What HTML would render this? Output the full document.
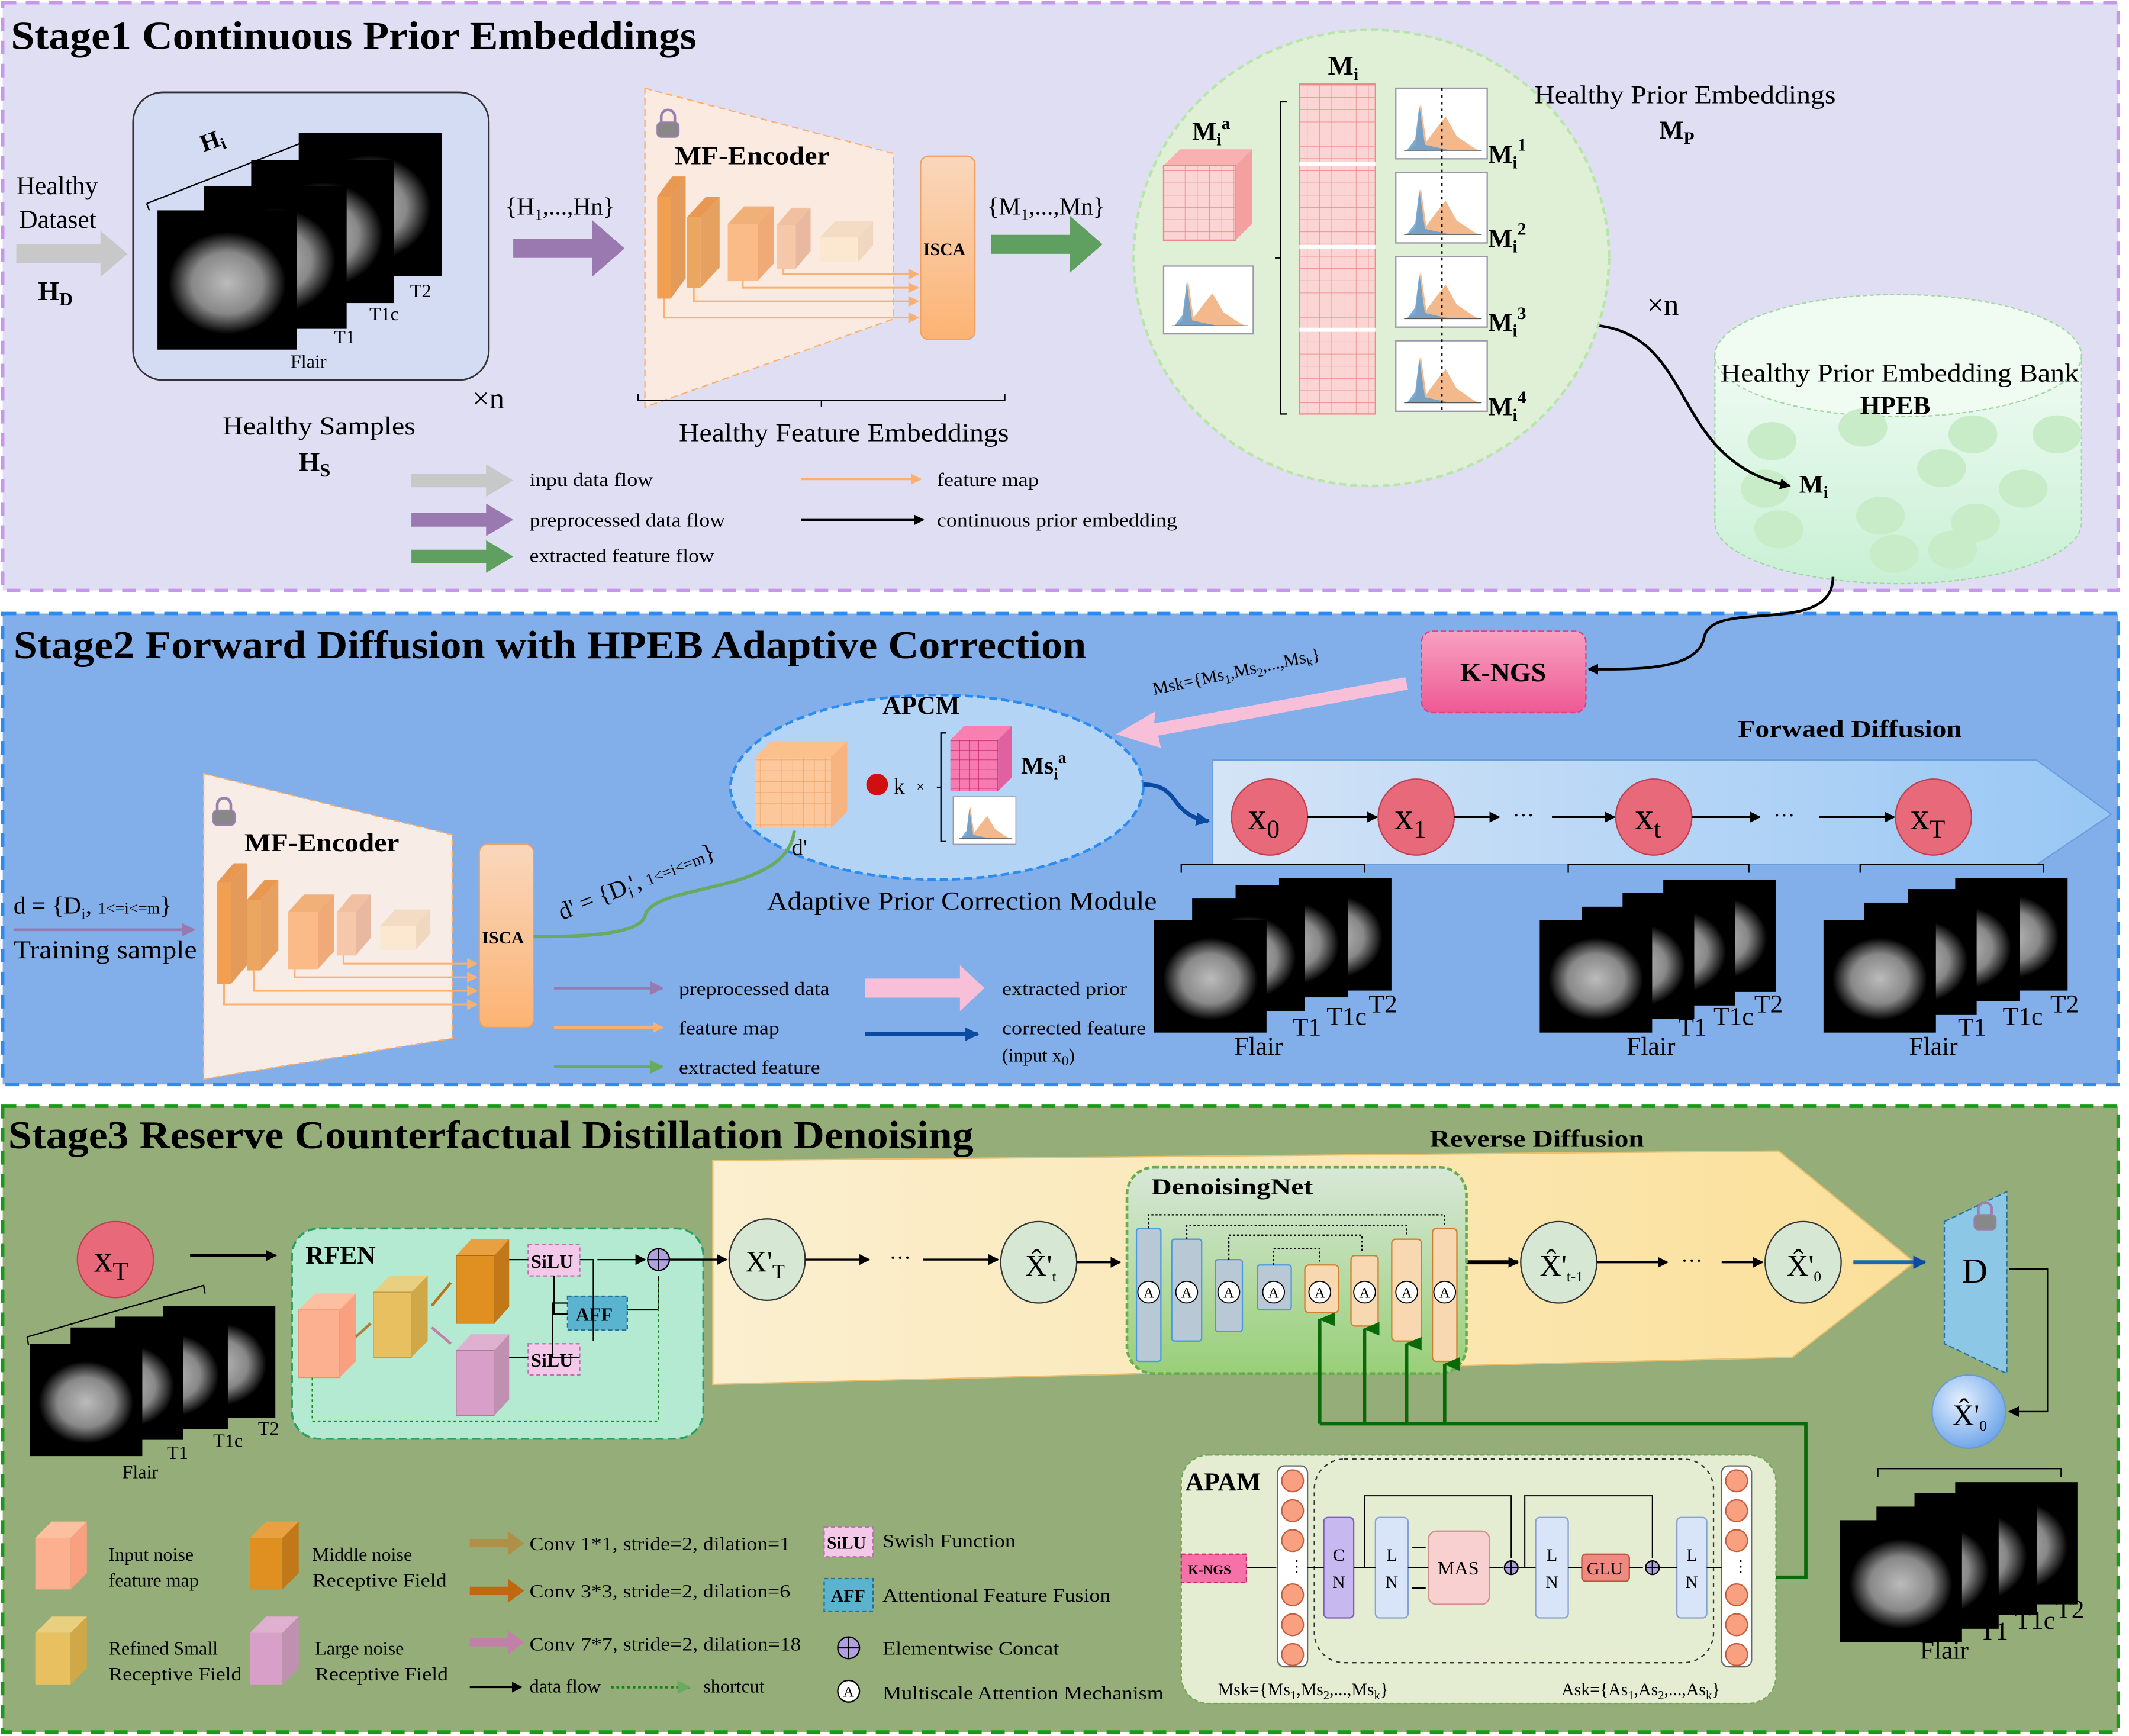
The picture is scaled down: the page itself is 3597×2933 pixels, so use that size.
<!DOCTYPE html>
<html><head><meta charset="utf-8"><style>html,body{margin:0;padding:0;background:#fff}svg{display:block}text{font-family:"Liberation Serif",serif}</style></head>
<body>
<svg width="3597" height="2933" viewBox="0 0 1568 1279" preserveAspectRatio="none" xmlns="http://www.w3.org/2000/svg">
<defs>
<radialGradient id="br" cx="50%" cy="50%" r="50%"><stop offset="0" stop-color="#bbb"/><stop offset="0.6" stop-color="#888"/><stop offset="0.85" stop-color="#333"/><stop offset="1" stop-color="#000"/></radialGradient>
<linearGradient id="isca" x1="0" y1="0" x2="0" y2="1"><stop offset="0" stop-color="#f9d7bd"/><stop offset="1" stop-color="#fcb373"/></linearGradient>
<linearGradient id="fwd" x1="0" y1="0" x2="1" y2="0"><stop offset="0" stop-color="#d4e4f6"/><stop offset="1" stop-color="#98c7f5"/></linearGradient>
<linearGradient id="rev" x1="0" y1="0" x2="1" y2="0"><stop offset="0" stop-color="#fbefd0"/><stop offset="1" stop-color="#fbe09a"/></linearGradient>
<linearGradient id="dn" x1="0" y1="0" x2="0" y2="1"><stop offset="0" stop-color="#d8e8d8"/><stop offset="1" stop-color="#98cf78"/></linearGradient>
<linearGradient id="kn" x1="0" y1="0" x2="0" y2="1"><stop offset="0" stop-color="#f8a0c0"/><stop offset="1" stop-color="#ee5a94"/></linearGradient>
<linearGradient id="cyl" x1="0" y1="0" x2="0" y2="1"><stop offset="0" stop-color="#f0fbf4"/><stop offset="1" stop-color="#c8f0d4"/></linearGradient>
<radialGradient id="bc" cx="40%" cy="35%" r="70%"><stop offset="0" stop-color="#e4f0ff"/><stop offset="1" stop-color="#6aa2e8"/></radialGradient>
<pattern id="grid" width="9" height="9" patternUnits="userSpaceOnUse"><rect width="9" height="9" fill="#fbd4d4"/><path d="M9 0V9H0" fill="none" stroke="#e88" stroke-width="0.7"/></pattern>
<pattern id="gridp" width="7" height="7" patternUnits="userSpaceOnUse"><rect width="7" height="7" fill="#f77ab0"/><path d="M7 0V7H0" fill="none" stroke="#c02060" stroke-width="0.6"/></pattern>
<pattern id="grido" width="8" height="8" patternUnits="userSpaceOnUse"><rect width="8" height="8" fill="#fcc79a"/><path d="M8 0V8H0" fill="none" stroke="#f0a060" stroke-width="0.6"/></pattern>
<marker id="ak" markerWidth="8" markerHeight="8" refX="7" refY="4" orient="auto" markerUnits="userSpaceOnUse"><path d="M0,0L8,4L0,8z" fill="#000"/></marker>
<marker id="ao" markerWidth="8" markerHeight="8" refX="7" refY="4" orient="auto" markerUnits="userSpaceOnUse"><path d="M0,0L8,4L0,8z" fill="#fbb070"/></marker>
<marker id="ap" markerWidth="10" markerHeight="10" refX="9" refY="5" orient="auto" markerUnits="userSpaceOnUse"><path d="M0,0L10,5L0,10z" fill="#9a78b0"/></marker>
<marker id="ag" markerWidth="10" markerHeight="10" refX="9" refY="5" orient="auto" markerUnits="userSpaceOnUse"><path d="M0,0L10,5L0,10z" fill="#6aaa60"/></marker>
<marker id="an" markerWidth="10" markerHeight="10" refX="9" refY="5" orient="auto" markerUnits="userSpaceOnUse"><path d="M0,0L10,5L0,10z" fill="#0a4aa0"/></marker>
<marker id="adg" markerWidth="10" markerHeight="12" refX="5" refY="1" orient="auto-start-reverse" markerUnits="userSpaceOnUse"><path d="M5,0L10,12L0,12z" fill="#0a6a0a"/></marker>
<g id="chart"><rect width="66" height="50" fill="#fff" stroke="#99a"/><path d="M8,44 L14,40 L18,10 L22,38 L28,30 L36,20 L44,34 L56,42 L60,44Z" fill="#f0a870" opacity="0.8"/><path d="M8,44 L14,36 L17,12 L21,40 L30,42 L40,44Z" fill="#5a9ad0" opacity="0.8"/><line x1="6" y1="44" x2="62" y2="44" stroke="#555" stroke-width="0.6"/></g>
<g id="brain"><rect width="90" height="90" fill="#000"/><ellipse cx="45" cy="47" rx="38" ry="33" fill="url(#br)"/></g>
<g id="lock"><path d="M-5,0 v-4 a5,5 0 0 1 10,0 v4" fill="none" stroke="#9a80b0" stroke-width="2"/><rect x="-8" y="0" width="16" height="11" rx="3" fill="#888" stroke="#9a80b0"/></g>
</defs>

<!-- ================= STAGE 1 ================= -->
<rect x="2" y="2" width="1558" height="433" fill="#e0def2" stroke="#c797ee" stroke-width="2.5" stroke-dasharray="10 7"/>
<text x="8" y="36" font-size="29" font-weight="bold" textLength="505" lengthAdjust="spacingAndGlyphs">Stage1 Continuous Prior Embeddings</text>
<text x="12" y="143" font-size="19">Healthy</text><text x="14" y="168" font-size="19">Dataset</text>
<text x="28" y="221" font-size="20" font-weight="bold">H<tspan font-size="14" dy="4">D</tspan></text>
<path d="M12,180 h62 v-10 l20,17 l-20,17 v-10 h-62z" fill="#c8c8c8"/>
<rect x="98" y="68" width="262" height="212" rx="22" fill="#d4dcf4" stroke="#333" stroke-width="1.2"/>
<use href="#brain" transform="translate(220,98) scale(1.17)"/>
<use href="#brain" transform="translate(185,118) scale(1.17)"/>
<use href="#brain" transform="translate(150,137) scale(1.17)"/>
<use href="#brain" transform="translate(116,155) scale(1.14)"/>
<path d="M108,150 L228,103" stroke="#000" fill="none"/><path d="M108,150 l2,5" stroke="#000"/>
<text x="150" y="112" font-size="18" font-weight="bold" transform="rotate(-20 150 112)">H<tspan font-size="12" dy="3">i</tspan></text>
<text x="214" y="271" font-size="14">Flair</text><text x="246" y="253" font-size="14">T1</text><text x="272" y="236" font-size="14">T1c</text><text x="302" y="219" font-size="14">T2</text>
<text x="348" y="301" font-size="22">×n</text>
<text x="164" y="320" font-size="19" textLength="142" lengthAdjust="spacingAndGlyphs">Healthy Samples</text>
<text x="220" y="347" font-size="20" font-weight="bold">H<tspan font-size="14" dy="4">S</tspan></text>
<path d="M378,176 h58 v-14 l24,21 l-24,21 v-14 h-58z" fill="#9a78b0"/>
<text x="372" y="158" font-size="18">{H<tspan font-size="12" dy="4">1</tspan><tspan dy="-4">,...,Hn}</tspan></text>
<polygon points="475,65 658,113 658,235 475,300" fill="#fbeadf" stroke="#fbb070" stroke-dasharray="5 3"/>
<use href="#lock" transform="translate(492,90)"/>
<text x="497" y="121" font-size="19" font-weight="bold" textLength="114" lengthAdjust="spacingAndGlyphs">MF-Encoder</text>
<g>
<polygon points="484,145 494,145 505,130 495,130" fill="#e89850"/><rect x="484" y="145" width="10" height="75" fill="#f0a050"/><polygon points="494,145 505,130 505,205 494,220" fill="#e49a58"/>
<polygon points="506,160 516,160 530,145 520,145" fill="#e89850"/><rect x="506" y="160" width="10" height="52" fill="#eba660"/><polygon points="516,160 530,145 530,197 516,212" fill="#e6a060"/>
<polygon points="536,165 558,165 570,152 548,152" fill="#f0b078"/><rect x="536" y="165" width="22" height="42" fill="#fbbb88"/><polygon points="558,165 570,152 570,194 558,207" fill="#f0aa78"/>
<polygon points="572,166 586,166 597,153 583,153" fill="#f0c0a0"/><rect x="572" y="166" width="14" height="32" fill="#f6c8aa"/><polygon points="586,166 597,153 597,185 586,198" fill="#e8b8a0"/>
<polygon points="604,175 632,175 643,163 615,163" fill="#f4dcc4"/><rect x="604" y="175" width="28" height="18" fill="#fce8d0"/><polygon points="632,175 643,163 643,181 632,193" fill="#f0d8c0"/>
</g>
<g stroke="#fbb070" stroke-width="1.3" fill="none" marker-end="url(#ao)">
<path d="M577,198 v4 h99"/><path d="M547,207 v5 h129"/><path d="M511,212 v10 h165"/><path d="M489,220 v14 h187"/>
</g>
<rect x="678" y="115" width="40" height="135" rx="6" fill="url(#isca)" stroke="#f0a060"/>
<text x="680" y="188" font-size="13" font-weight="bold">ISCA</text>
<path d="M730,173 h58 v-14 l24,21 l-24,21 v-14 h-58z" fill="#5fa060"/>
<text x="727" y="158" font-size="18">{M<tspan font-size="12" dy="4">1</tspan><tspan dy="-4">,...,Mn}</tspan></text>
<path d="M470,290 v5 h270 v-5 M605,295 v5" stroke="#000" fill="none"/>
<text x="500" y="325" font-size="19" textLength="243" lengthAdjust="spacingAndGlyphs">Healthy Feature Embeddings</text>
<ellipse cx="1010" cy="190" rx="175" ry="168" fill="#dff0d6" stroke="#b8e6a8" stroke-width="2" stroke-dasharray="5 3"/>
<text x="978" y="55" font-size="20" font-weight="bold">M<tspan font-size="13" dy="4">i</tspan></text>
<text x="878" y="103" font-size="19" font-weight="bold">M<tspan font-size="13" dy="4">i</tspan><tspan font-size="13" dy="-12">a</tspan></text>
<polygon points="857,122 910,122 922,110 869,110" fill="#f9b0b0"/><rect x="857" y="122" width="53" height="55" fill="url(#grid)" stroke="#e88"/><polygon points="910,122 922,110 922,165 910,177" fill="#f4a0a0"/>
<use href="#chart" transform="translate(857,196)"/>
<path d="M948,75 h-5 v230 h5 M943,190 h-4" stroke="#000" fill="none"/>
<rect x="957" y="62" width="56" height="243" fill="url(#grid)" stroke="#e88"/>
<g stroke="#fff" stroke-width="3"><line x1="957" y1="121" x2="1013" y2="121"/><line x1="957" y1="182" x2="1013" y2="182"/><line x1="957" y1="243" x2="1013" y2="243"/></g>
<use href="#chart" transform="translate(1028,65) scale(1.02,1.04)"/><use href="#chart" transform="translate(1028,127) scale(1.02,1.04)"/><use href="#chart" transform="translate(1028,189) scale(1.02,1.04)"/><use href="#chart" transform="translate(1028,251) scale(1.02,1.04)"/>
<line x1="1062" y1="65" x2="1062" y2="305" stroke="#000" stroke-dasharray="2 3"/>
<g font-size="19" font-weight="bold"><text x="1096" y="120">M<tspan font-size="13" dy="4">i</tspan><tspan font-size="13" dy="-13">1</tspan></text>
<text x="1096" y="182">M<tspan font-size="13" dy="4">i</tspan><tspan font-size="13" dy="-13">2</tspan></text>
<text x="1096" y="244">M<tspan font-size="13" dy="4">i</tspan><tspan font-size="13" dy="-13">3</tspan></text>
<text x="1096" y="306">M<tspan font-size="13" dy="4">i</tspan><tspan font-size="13" dy="-13">4</tspan></text></g>
<text x="1130" y="76" font-size="19" textLength="222" lengthAdjust="spacingAndGlyphs">Healthy Prior Embeddings</text>
<text x="1222" y="102" font-size="19" font-weight="bold">M<tspan font-size="13" dy="4">P</tspan></text>
<text x="1213" y="232" font-size="22">×n</text>
<path d="M1263,262 v123 a135,45 0 0 0 270,0 v-123z" fill="url(#cyl)" stroke="#9fd8a0" stroke-dasharray="3 2"/>
<ellipse cx="1398" cy="262" rx="135" ry="45" fill="#f0fbf2" stroke="#9fd8a0" stroke-dasharray="3 2"/>
<g fill="#c8ebc8"><ellipse cx="1305" cy="325" rx="18" ry="14"/><ellipse cx="1372" cy="315" rx="18" ry="14"/><ellipse cx="1453" cy="320" rx="18" ry="14"/><ellipse cx="1515" cy="320" rx="18" ry="14"/><ellipse cx="1300" cy="360" rx="18" ry="14"/><ellipse cx="1430" cy="345" rx="18" ry="14"/><ellipse cx="1490" cy="360" rx="18" ry="14"/><ellipse cx="1310" cy="390" rx="18" ry="14"/><ellipse cx="1385" cy="380" rx="18" ry="14"/><ellipse cx="1455" cy="385" rx="18" ry="14"/><ellipse cx="1395" cy="408" rx="18" ry="14"/><ellipse cx="1438" cy="405" rx="18" ry="14"/></g>
<text x="1267" y="281" font-size="19" textLength="264" lengthAdjust="spacingAndGlyphs">Healthy Prior Embedding Bank</text>
<text x="1370" y="305" font-size="19" font-weight="bold">HPEB</text>
<path d="M1178,240 C1250,250 1230,340 1318,358" stroke="#000" stroke-width="2" fill="none" marker-end="url(#ak)"/>
<text x="1325" y="363" font-size="19" font-weight="bold">M<tspan font-size="13" dy="4">i</tspan></text>
<path d="M303,349 h55 v-7 l20,12 l-20,12 v-7 h-55z" fill="#c8c8c8"/>
<path d="M303,378 h55 v-7 l20,12 l-20,12 v-7 h-55z" fill="#9a78b0"/>
<path d="M303,405 h55 v-7 l20,12 l-20,12 v-7 h-55z" fill="#5fa060"/>
<g font-size="14"><text x="390" y="358" textLength="91" lengthAdjust="spacingAndGlyphs">inpu data flow</text><text x="390" y="388" textLength="144" lengthAdjust="spacingAndGlyphs">preprocessed data flow</text><text x="390" y="414" textLength="136" lengthAdjust="spacingAndGlyphs">extracted feature flow</text><text x="690" y="358" textLength="75" lengthAdjust="spacingAndGlyphs">feature map</text><text x="690" y="388" textLength="177" lengthAdjust="spacingAndGlyphs">continuous prior embedding</text></g>
<line x1="590" y1="353" x2="678" y2="353" stroke="#fbb070" stroke-width="1.5" marker-end="url(#ao)"/>
<line x1="590" y1="383" x2="680" y2="383" stroke="#000" stroke-width="1.5" marker-end="url(#ak)"/>

<!-- ================= STAGE 2 ================= -->
<rect x="2" y="452" width="1558" height="347" fill="#82aeea" stroke="#2a8cf0" stroke-width="2.5" stroke-dasharray="10 7"/>
<text x="10" y="485" font-size="29" font-weight="bold" textLength="790" lengthAdjust="spacingAndGlyphs">Stage2 Forward Diffusion with HPEB Adaptive Correction</text>
<path d="M1350,425 C1350,470 1260,440 1255,470 C1250,495 1200,493 1170,493" stroke="#000" stroke-width="2" fill="none" marker-end="url(#ak)"/>
<rect x="1047" y="465" width="121" height="60" rx="8" fill="url(#kn)" stroke="#e04080" stroke-dasharray="4 2"/>
<text x="1107" y="502" font-size="20" font-weight="bold" text-anchor="middle">K-NGS</text>
<path d="M1035,499 L850,533 L851,524 L822,541 L855,551 L853,542 L1037,508z" fill="#f8c0d8"/>
<text x="850" y="512" font-size="13" transform="rotate(-12 850 512)">Msk={Ms<tspan font-size="9" dy="3">1</tspan><tspan dy="-3">,Ms</tspan><tspan font-size="9" dy="3">2</tspan><tspan dy="-3">,...,Ms</tspan><tspan font-size="9" dy="3">k</tspan><tspan dy="-3">}</tspan></text>
<ellipse cx="690" cy="580" rx="152" ry="68" fill="#b4d4f6" stroke="#2a8cf0" stroke-width="2" stroke-dasharray="6 3"/>
<text x="650" y="526" font-size="19" font-weight="bold">APCM</text>
<polygon points="556,558 612,558 624,546 568,546" fill="#fcc08a"/><rect x="556" y="558" width="56" height="52" fill="url(#grido)"/><polygon points="612,558 624,546 624,598 612,610" fill="#f8b480"/>
<text x="583" y="630" font-size="17">d'</text>
<circle cx="646" cy="578" r="8" fill="#d01010"/>
<text x="658" y="585" font-size="17">k</text><text x="675" y="583" font-size="10">×</text>
<path d="M697,540 h-4 v80 h4 M693,580 h-3" stroke="#000" fill="none"/>
<polygon points="700,545 735,545 745,535 710,535" fill="#f880b0"/><rect x="700" y="545" width="35" height="38" fill="url(#gridp)"/><polygon points="735,545 745,535 745,573 735,583" fill="#e060a0"/>
<text x="752" y="570" font-size="18" font-weight="bold">Ms<tspan font-size="12" dy="4">i</tspan><tspan font-size="12" dy="-12">a</tspan></text>
<use href="#chart" transform="translate(702,587) scale(0.7)"/>
<text x="565" y="670" font-size="19" textLength="287" lengthAdjust="spacingAndGlyphs">Adaptive Prior Correction Module</text>
<path d="M842,578 C870,578 860,600 890,605" stroke="#0a4aa0" stroke-width="3" fill="none" marker-end="url(#an)"/>
<polygon points="893,560 1500,560 1555,600 1500,637 893,637" fill="url(#fwd)" stroke="#6aa0d8"/>
<text x="1280" y="543" font-size="18" font-weight="bold" textLength="165" lengthAdjust="spacingAndGlyphs">Forwaed Diffusion</text>
<g fill="#e86a7a" stroke="#c04050"><circle cx="935" cy="602" r="28"/><circle cx="1043" cy="602" r="28"/><circle cx="1218" cy="602" r="28"/><circle cx="1424" cy="602" r="28"/></g>
<g font-size="28"><text x="919" y="611">x<tspan font-size="19" dy="6">0</tspan></text><text x="1027" y="611">x<tspan font-size="19" dy="6">1</tspan></text><text x="1204" y="611">x<tspan font-size="19" dy="6">t</tspan></text><text x="1407" y="611">x<tspan font-size="19" dy="6">T</tspan></text></g>
<g stroke="#000" stroke-width="1.3" marker-end="url(#ak)"><line x1="963" y1="602" x2="1014" y2="602"/><line x1="1071" y1="602" x2="1104" y2="602"/><line x1="1143" y1="602" x2="1189" y2="602"/><line x1="1246" y1="602" x2="1296" y2="602"/><line x1="1340" y1="602" x2="1395" y2="602"/></g>
<text x="1114" y="606" font-size="16">···</text><text x="1306" y="606" font-size="16">···</text>
<path d="M870,643 v-6 h135 v6 M1155,643 v-6 h133 v6 M1370,643 v-6 h135 v6" stroke="#000" fill="none"/>
<g><use href="#brain" transform="translate(942,647) scale(0.92)"/><use href="#brain" transform="translate(910,652) scale(0.92)"/><use href="#brain" transform="translate(878,662) scale(0.92)"/><use href="#brain" transform="translate(850,678) scale(0.92)"/></g>
<g><use href="#brain" transform="translate(1225,648) scale(0.92)"/><use href="#brain" transform="translate(1195,658) scale(0.92)"/><use href="#brain" transform="translate(1165,668) scale(0.92)"/><use href="#brain" transform="translate(1134,678) scale(0.92)"/></g>
<g><use href="#brain" transform="translate(1440,647) scale(0.92)"/><use href="#brain" transform="translate(1405,655) scale(0.92)"/><use href="#brain" transform="translate(1373,665) scale(0.92)"/><use href="#brain" transform="translate(1343,678) scale(0.92)"/></g>
<g font-size="19"><text x="909" y="777">Flair</text><text x="952" y="763">T1</text><text x="977" y="755">T1c</text><text x="1008" y="746">T2</text>
<text x="1198" y="777">Flair</text><text x="1236" y="763">T1</text><text x="1262" y="755">T1c</text><text x="1292" y="746">T2</text>
<text x="1406" y="777">Flair</text><text x="1442" y="763">T1</text><text x="1475" y="755">T1c</text><text x="1510" y="746">T2</text></g>
<polygon points="150,570 333,615 333,765 150,795" fill="#f8ede6" stroke="#fbb070" stroke-dasharray="5 3"/>
<use href="#lock" transform="translate(165,597)"/>
<text x="180" y="627" font-size="19" font-weight="bold" textLength="114" lengthAdjust="spacingAndGlyphs">MF-Encoder</text>
<g>
<polygon points="160,650 170,650 182,636 172,636" fill="#e89850"/><rect x="160" y="650" width="10" height="75" fill="#f0a050"/><polygon points="170,650 182,636 182,711 170,725" fill="#e49a58"/>
<polygon points="182,663 192,663 205,648 195,648" fill="#e89850"/><rect x="182" y="663" width="10" height="52" fill="#eba660"/><polygon points="192,663 205,648 205,700 192,715" fill="#e6a060"/>
<polygon points="212,672 234,672 246,659 224,659" fill="#f0b078"/><rect x="212" y="672" width="22" height="42" fill="#fbbb88"/><polygon points="234,672 246,659 246,701 234,714" fill="#f0aa78"/>
<polygon points="248,672 262,672 273,659 259,659" fill="#f0c0a0"/><rect x="248" y="672" width="14" height="32" fill="#f6c8aa"/><polygon points="262,672 273,659 273,691 262,704" fill="#e8b8a0"/>
<polygon points="280,682 306,682 317,670 291,670" fill="#f4dcc4"/><rect x="280" y="682" width="26" height="18" fill="#fce8d0"/><polygon points="306,682 317,670 317,688 306,700" fill="#f0d8c0"/>
</g>
<g stroke="#fbb070" stroke-width="1.3" fill="none" marker-end="url(#ao)">
<path d="M253,704 v6 h98"/><path d="M217,714 v6 h134"/><path d="M187,715 v15 h164"/><path d="M165,725 v15 h186"/>
</g>
<rect x="353" y="622" width="40" height="135" rx="6" fill="url(#isca)" stroke="#f0a060"/>
<text x="355" y="695" font-size="13" font-weight="bold">ISCA</text>
<text x="10" y="673" font-size="18">d = {D<tspan font-size="12" dy="4">i</tspan><tspan dy="-4">, </tspan><tspan font-size="12">1&lt;=i&lt;=m</tspan>}</text>
<line x1="10" y1="685" x2="143" y2="685" stroke="#9a78b0" stroke-width="2" marker-end="url(#ap)"/>
<text x="10" y="706" font-size="19" textLength="135" lengthAdjust="spacingAndGlyphs">Training sample</text>
<path d="M393,690 C420,690 470,690 475,675 C480,650 580,660 585,612" stroke="#6aaa60" stroke-width="2.5" fill="none"/>
<text x="414" y="678" font-size="18" transform="rotate(-22 414 678)">d' = {D<tspan font-size="12" dy="4">i</tspan><tspan dy="-4">', </tspan><tspan font-size="12">1&lt;=i&lt;=m</tspan>}</text>
<line x1="408" y1="728" x2="488" y2="728" stroke="#9a78b0" stroke-width="2" marker-end="url(#ap)"/>
<line x1="408" y1="757" x2="488" y2="757" stroke="#fbb070" stroke-width="2" marker-end="url(#ao)"/>
<line x1="408" y1="786" x2="488" y2="786" stroke="#6aaa60" stroke-width="2" marker-end="url(#ag)"/>
<g font-size="14"><text x="500" y="733" textLength="111" lengthAdjust="spacingAndGlyphs">preprocessed data</text><text x="500" y="762" textLength="74" lengthAdjust="spacingAndGlyphs">feature map</text><text x="500" y="791" textLength="104" lengthAdjust="spacingAndGlyphs">extracted feature</text><text x="738" y="733" textLength="92" lengthAdjust="spacingAndGlyphs">extracted prior</text><text x="738" y="762" textLength="106" lengthAdjust="spacingAndGlyphs">corrected feature</text><text x="738" y="782">(input x<tspan font-size="10" dy="3">0</tspan><tspan dy="-3">)</tspan></text></g>
<path d="M637,721 h70 v-10 l18,17 l-18,17 v-10 h-70z" fill="#f8c0d8"/>
<line x1="637" y1="762" x2="720" y2="762" stroke="#0a4aa0" stroke-width="3" marker-end="url(#an)"/>

<!-- ================= STAGE 3 ================= -->
<rect x="2" y="815" width="1558" height="461" fill="#95ad78" stroke="#1a9a1a" stroke-width="2.5" stroke-dasharray="10 7"/>
<text x="6" y="846" font-size="29" font-weight="bold" textLength="711" lengthAdjust="spacingAndGlyphs">Stage3 Reserve Counterfactual Distillation Denoising</text>
<polygon points="525,855 1310,848 1410,930 1320,1000 525,1020" fill="url(#rev)" stroke="#e8c070"/>
<text x="1053" y="845" font-size="18" font-weight="bold" textLength="158" lengthAdjust="spacingAndGlyphs">Reverse Diffusion</text>
<circle cx="85" cy="928" r="28" fill="#e86a7a" stroke="#c04050"/>
<text x="69" y="937" font-size="28">x<tspan font-size="19" dy="6">T</tspan></text>
<line x1="140" y1="925" x2="203" y2="925" stroke="#000" stroke-width="2" marker-end="url(#ak)"/>
<path d="M20,985 L150,947 M20,985 l1,6 M150,947 l1,6" stroke="#000" fill="none"/>
<g><use href="#brain" transform="translate(120,962) scale(0.92)"/><use href="#brain" transform="translate(85,970) scale(0.92)"/><use href="#brain" transform="translate(52,978) scale(0.92)"/><use href="#brain" transform="translate(22,990) scale(0.92)"/></g>
<g font-size="14"><text x="90" y="1089">Flair</text><text x="123" y="1075">T1</text><text x="157" y="1066">T1c</text><text x="190" y="1057">T2</text></g>
<rect x="215" y="905" width="303" height="155" rx="20" fill="#b4ead2" stroke="#2aa060" stroke-width="1.5" stroke-dasharray="6 3"/>
<text x="225" y="931" font-size="19" font-weight="bold">RFEN</text>
<polygon points="220,965 250,965 262,953 232,953" fill="#fcc0a0"/><rect x="220" y="965" width="30" height="50" fill="#fcb090" stroke="#f09070" stroke-width="0.5"/><polygon points="250,965 262,953 262,1003 250,1015" fill="#f8a080"/>
<polygon points="275,952 303,952 315,940 287,940" fill="#e8d080"/><rect x="275" y="952" width="28" height="48" fill="#e8c060" stroke="#b09040" stroke-width="0.5"/><polygon points="303,952 315,940 315,988 303,1000" fill="#d0a848"/>
<polygon points="336,925 364,925 375,913 347,913" fill="#e8a040"/><rect x="336" y="925" width="28" height="50" fill="#e09020" stroke="#a06010" stroke-width="0.5"/><polygon points="364,925 375,913 375,963 364,975" fill="#c07818"/>
<polygon points="336,995 364,995 375,983 347,983" fill="#e0b0d0"/><rect x="336" y="995" width="28" height="48" fill="#d8a0c8" stroke="#a07090" stroke-width="0.5"/><polygon points="364,995 375,983 375,1031 364,1043" fill="#c090b0"/>
<line x1="262" y1="985" x2="273" y2="975" stroke="#b08040" stroke-width="2"/>
<line x1="318" y1="962" x2="332" y2="945" stroke="#c07018" stroke-width="2"/>
<line x1="318" y1="978" x2="332" y2="990" stroke="#c080a8" stroke-width="2"/>
<rect x="389" y="917" width="38" height="23" fill="#f4c8e8" stroke="#c070b0" stroke-dasharray="3 2"/><text x="391" y="934" font-size="14" font-weight="bold">SiLU</text>
<rect x="389" y="990" width="38" height="23" fill="#f4c8e8" stroke="#c070b0" stroke-dasharray="3 2"/><text x="391" y="1007" font-size="14" font-weight="bold">SiLU</text>
<rect x="418" y="955" width="44" height="25" fill="#5ab4d0" stroke="#2a7090" stroke-dasharray="3 2"/><text x="424" y="973" font-size="14" font-weight="bold">AFF</text>
<g stroke="#000" stroke-width="1" fill="none"><path d="M375,928 h14 M375,1000 h14 M427,928 h10 v60 M427,1000 h-20 v-40 h11 M408,940 v28 h10 M462,965 h23 v-25"/><path d="M440,928 h35" marker-end="url(#ak)"/></g>
<circle cx="485" cy="928" r="8" fill="#b0a0e0" stroke="#000"/><path d="M477,928h16M485,920v16" stroke="#000"/>
<path d="M230,1015 v32 h255 v-105" stroke="#1a8a1a" stroke-dasharray="2 2" fill="none"/>
<line x1="493" y1="928" x2="535" y2="928" stroke="#000" stroke-width="1.5" marker-end="url(#ak)"/>
<g fill="#d6e8d4" stroke="#333"><ellipse cx="565" cy="928" rx="28" ry="30"/><ellipse cx="765" cy="930" rx="28" ry="30"/><ellipse cx="1148" cy="930" rx="28" ry="30"/><ellipse cx="1328" cy="930" rx="28" ry="30"/></g>
<g font-size="22"><text x="549" y="937">X'<tspan font-size="15" dy="5">T</tspan></text>
<text x="755" y="940">X̂'<tspan font-size="11" dy="4">t</tspan></text>
<text x="1134" y="940">X̂'<tspan font-size="11" dy="4">t-1</tspan></text>
<text x="1316" y="940">X̂'<tspan font-size="11" dy="4">0</tspan></text></g>
<g stroke="#000" stroke-width="1.5" marker-end="url(#ak)"><line x1="593" y1="928" x2="640" y2="928"/><line x1="680" y1="928" x2="735" y2="928"/><line x1="793" y1="930" x2="825" y2="930"/><line x1="1080" y1="930" x2="1118" y2="930" stroke-width="3"/><line x1="1176" y1="930" x2="1228" y2="930"/><line x1="1268" y1="930" x2="1298" y2="930"/></g>
<text x="655" y="932" font-size="16">···</text><text x="1238" y="934" font-size="16">···</text>
<rect x="830" y="860" width="250" height="152" rx="20" fill="url(#dn)" stroke="#6aaa50" stroke-width="2" stroke-dasharray="4 2"/>
<text x="848" y="880" font-size="17" font-weight="bold" textLength="119" lengthAdjust="spacingAndGlyphs">DenoisingNet</text>
<g stroke="#4a9ae0"><rect x="837" y="905" width="18" height="98" rx="2" fill="#b8c8d4"/><rect x="863" y="913" width="22" height="75" rx="2" fill="#b8c8d4"/><rect x="895" y="928" width="20" height="53" rx="2" fill="#b8c8d4"/><rect x="926" y="932" width="25" height="33" rx="2" fill="#b8c8d4"/></g>
<g stroke="#d08030"><rect x="961" y="932" width="25" height="35" rx="3" fill="#f8d8b0"/><rect x="995" y="925" width="20" height="52" rx="3" fill="#f8d8b0"/><rect x="1025" y="913" width="22" height="75" rx="3" fill="#f8d8b0"/><rect x="1055" y="905" width="18" height="98" rx="3" fill="#f8d8b0"/></g>
<g stroke="#000" stroke-dasharray="1.5 1.5" fill="none"><path d="M846,905 v-10 h218 v8"/><path d="M874,913 v-10 h162 v8"/><path d="M905,928 v-18 h98 v12"/><path d="M938,932 v-12 h34 v10"/></g>
<g fill="#fff" stroke="#000" stroke-width="0.8"><circle cx="846" cy="952" r="8"/><circle cx="874" cy="952" r="8"/><circle cx="905" cy="952" r="8"/><circle cx="938" cy="952" r="8"/><circle cx="972" cy="952" r="8"/><circle cx="1005" cy="952" r="8"/><circle cx="1036" cy="952" r="8"/><circle cx="1064" cy="952" r="8"/></g>
<g font-size="11" text-anchor="middle"><text x="846" y="956">A</text><text x="874" y="956">A</text><text x="905" y="956">A</text><text x="938" y="956">A</text><text x="972" y="956">A</text><text x="1005" y="956">A</text><text x="1036" y="956">A</text><text x="1064" y="956">A</text></g>
<line x1="1365" y1="930" x2="1418" y2="930" stroke="#1a6aa8" stroke-width="3" marker-end="url(#an)"/>
<polygon points="1432,900 1478,878 1478,1012 1432,990" fill="#8cc8e6" stroke="#2a70a0" stroke-dasharray="4 2"/>
<use href="#lock" transform="translate(1462,895)"/>
<text x="1445" y="945" font-size="26">D</text>
<path d="M1480,935 h28 v105 h-28" stroke="#000" fill="none" marker-end="url(#ak)"/>
<circle cx="1450" cy="1040" r="27" fill="url(#bc)" stroke="#6a9ad0"/>
<text x="1438" y="1050" font-size="22">X̂'<tspan font-size="11" dy="4">0</tspan></text>
<path d="M1383,1088 v-6 h135 v6" stroke="#000" fill="none"/>
<g><use href="#brain" transform="translate(1440,1092) scale(1.0)"/><use href="#brain" transform="translate(1410,1100) scale(1.0)"/><use href="#brain" transform="translate(1382,1110) scale(1.0)"/><use href="#brain" transform="translate(1355,1120) scale(1.0)"/></g>
<g font-size="19"><text x="1414" y="1222">Flair</text><text x="1458" y="1208">T1</text><text x="1484" y="1200">T1c</text><text x="1514" y="1192">T2</text></g>
<rect x="870" y="1072" width="438" height="183" rx="20" fill="#e4ecd2" stroke="#6aaa50" stroke-dasharray="3 2"/>
<rect x="968" y="1075" width="294" height="150" rx="22" fill="none" stroke="#333" stroke-dasharray="3 3"/>
<text x="873" y="1098" font-size="19" font-weight="bold">APAM</text>
<rect x="870" y="1145" width="48" height="21" fill="#f870a8" stroke="#c03070" stroke-dasharray="3 2"/><text x="875" y="1160" font-size="10" font-weight="bold">K-NGS</text>
<rect x="941" y="1080" width="22" height="148" rx="5" fill="#fff" stroke="#666"/><rect x="1268" y="1080" width="22" height="148" rx="5" fill="#fff" stroke="#666"/>
<g fill="#f8a080" stroke="#c06040"><circle cx="952" cy="1091" r="8"/><circle cx="952" cy="1113" r="8"/><circle cx="952" cy="1135" r="8"/><circle cx="952" cy="1175" r="8"/><circle cx="952" cy="1197" r="8"/><circle cx="952" cy="1219" r="8"/>
<circle cx="1279" cy="1091" r="8"/><circle cx="1279" cy="1113" r="8"/><circle cx="1279" cy="1135" r="8"/><circle cx="1279" cy="1175" r="8"/><circle cx="1279" cy="1197" r="8"/><circle cx="1279" cy="1219" r="8"/></g>
<text x="949" y="1158" font-size="12">⋮</text><text x="1276" y="1158" font-size="12">⋮</text>
<line x1="918" y1="1155" x2="940" y2="1155" stroke="#000"/>
<rect x="975" y="1118" width="22" height="74" rx="3" fill="#c8b8f0" stroke="#7a60c0"/><text x="986" y="1150" font-size="13" text-anchor="middle">C</text><text x="986" y="1170" font-size="13" text-anchor="middle">N</text>
<rect x="1013" y="1118" width="24" height="74" rx="3" fill="#d8e4f8" stroke="#8aa0d0"/><text x="1025" y="1150" font-size="13" text-anchor="middle">L</text><text x="1025" y="1170" font-size="13" text-anchor="middle">N</text>
<rect x="1052" y="1128" width="45" height="54" rx="6" fill="#f8d0d0" stroke="#d09090"/><text x="1074" y="1160" font-size="14" text-anchor="middle">MAS</text>
<rect x="1131" y="1118" width="24" height="74" rx="3" fill="#d8e4f8" stroke="#8aa0d0"/><text x="1143" y="1150" font-size="13" text-anchor="middle">L</text><text x="1143" y="1170" font-size="13" text-anchor="middle">N</text>
<rect x="1165" y="1145" width="35" height="20" rx="3" fill="#f08a80" stroke="#c05040"/><text x="1182" y="1160" font-size="13" text-anchor="middle">GLU</text>
<rect x="1235" y="1118" width="22" height="74" rx="3" fill="#d8e4f8" stroke="#8aa0d0"/><text x="1246" y="1150" font-size="13" text-anchor="middle">L</text><text x="1246" y="1170" font-size="13" text-anchor="middle">N</text>
<g stroke="#000" fill="none" stroke-width="0.9"><path d="M963,1155 h12 M997,1155 h16 M1037,1155 h15 M1097,1155 h10 M1119,1155 h12 M1155,1155 h10 M1200,1155 h10 M1222,1155 h13 M1257,1155 h11 M1005,1155 v-53 h108 v46 M1123,1155 v-53 h94 v46 M1040,1140 h10 M1040,1170 h10"/></g>
<circle cx="1113" cy="1155" r="5" fill="#b0a0e0" stroke="#000"/><path d="M1108,1155h10M1113,1150v10" stroke="#000"/>
<circle cx="1217" cy="1155" r="5" fill="#b0a0e0" stroke="#000"/><path d="M1212,1155h10M1217,1150v10" stroke="#000"/>
<text x="897" y="1249" font-size="13">Msk={Ms<tspan font-size="9" dy="3">1</tspan><tspan dy="-3">,Ms</tspan><tspan font-size="9" dy="3">2</tspan><tspan dy="-3">,...,Ms</tspan><tspan font-size="9" dy="3">k</tspan><tspan dy="-3">}</tspan></text>
<text x="1150" y="1249" font-size="13">Ask={As<tspan font-size="9" dy="3">1</tspan><tspan dy="-3">,As</tspan><tspan font-size="9" dy="3">2</tspan><tspan dy="-3">,...,As</tspan><tspan font-size="9" dy="3">k</tspan><tspan dy="-3">}</tspan></text>
<g stroke="#0a6a0a" stroke-width="2.5" fill="none"><path d="M1308,1162 h22 v-113 h-358"/><path d="M972,1049 v-77" marker-end="url(#adg)"/><path d="M1005,1049 v-70" marker-end="url(#adg)"/><path d="M1036,1049 v-59" marker-end="url(#adg)"/><path d="M1064,1049 v-44" marker-end="url(#adg)"/></g>
<polygon points="26,1133 52,1133 64,1121 38,1121" fill="#fcc0a0"/><rect x="26" y="1133" width="26" height="38" fill="#fcb090"/><polygon points="52,1133 64,1121 64,1159 52,1171" fill="#f8a080"/>
<polygon points="26,1203 52,1203 64,1191 38,1191" fill="#e8d080"/><rect x="26" y="1203" width="26" height="38" fill="#e8c060"/><polygon points="52,1203 64,1191 64,1229 52,1241" fill="#d0a848"/>
<polygon points="184,1133 208,1133 220,1121 196,1121" fill="#e8a040"/><rect x="184" y="1133" width="24" height="38" fill="#e09020"/><polygon points="208,1133 220,1121 220,1159 208,1171" fill="#c07818"/>
<polygon points="184,1203 208,1203 220,1191 196,1191" fill="#e0b0d0"/><rect x="184" y="1203" width="24" height="38" fill="#d8a0c8"/><polygon points="208,1203 220,1191 220,1229 208,1241" fill="#c090b0"/>
<g font-size="14"><text x="80" y="1150">Input noise</text><text x="80" y="1169">feature map</text><text x="80" y="1219">Refined Small</text><text x="80" y="1238" textLength="98" lengthAdjust="spacingAndGlyphs">Receptive Field</text>
<text x="230" y="1150">Middle noise</text><text x="230" y="1169" textLength="99" lengthAdjust="spacingAndGlyphs">Receptive Field</text><text x="232" y="1219">Large noise</text><text x="232" y="1238" textLength="98" lengthAdjust="spacingAndGlyphs">Receptive Field</text>
<text x="390" y="1142" textLength="192" lengthAdjust="spacingAndGlyphs">Conv 1*1, stride=2, dilation=1</text><text x="390" y="1177" textLength="192" lengthAdjust="spacingAndGlyphs">Conv 3*3, stride=2, dilation=6</text><text x="390" y="1216" textLength="200" lengthAdjust="spacingAndGlyphs">Conv 7*7, stride=2, dilation=18</text><text x="390" y="1247">data flow</text><text x="518" y="1247">shortcut</text>
<text x="650" y="1140" textLength="98" lengthAdjust="spacingAndGlyphs">Swish Function</text><text x="650" y="1180" textLength="168" lengthAdjust="spacingAndGlyphs">Attentional Feature Fusion</text><text x="650" y="1219" textLength="130" lengthAdjust="spacingAndGlyphs">Elementwise Concat</text><text x="650" y="1252" textLength="207" lengthAdjust="spacingAndGlyphs">Multiscale Attention Mechanism</text></g>
<path d="M346,1134 h28 v-6 l12,9 l-12,9 v-6 h-28z" fill="#b09048"/>
<path d="M346,1169 h28 v-6 l12,9 l-12,9 v-6 h-28z" fill="#c06810"/>
<path d="M346,1207 h28 v-6 l12,9 l-12,9 v-6 h-28z" fill="#c080a8"/>
<line x1="346" y1="1243" x2="384" y2="1243" stroke="#000" stroke-width="1.5" marker-end="url(#ak)"/>
<path d="M450,1243 h58" stroke="#0a8a0a" stroke-width="2" stroke-dasharray="2 2" fill="none" marker-end="url(#ag)"/>
<rect x="607" y="1125" width="36" height="22" fill="#f4c8e8" stroke="#c070b0" stroke-dasharray="3 2"/><text x="609" y="1141" font-size="13" font-weight="bold">SiLU</text>
<rect x="607" y="1163" width="36" height="24" fill="#5ab4d0" stroke="#2a7090" stroke-dasharray="3 2"/><text x="612" y="1180" font-size="13" font-weight="bold">AFF</text>
<circle cx="625" cy="1214" r="8" fill="#b0a0e0" stroke="#000"/><path d="M617,1214h16M625,1206v16" stroke="#000"/>
<circle cx="625" cy="1246" r="8" fill="#fff" stroke="#000"/><text x="625" y="1250" font-size="11" text-anchor="middle">A</text>
</svg>
</body></html>
